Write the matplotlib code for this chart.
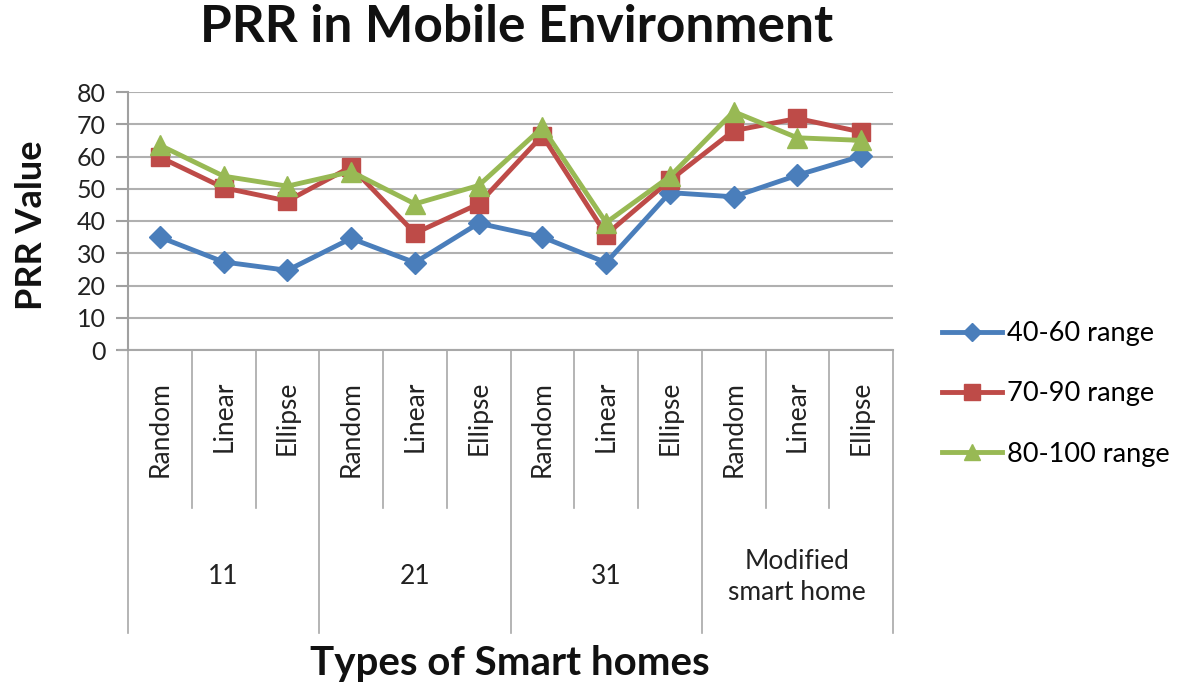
import matplotlib
matplotlib.use("Agg")
import matplotlib.pyplot as plt
import matplotlib.transforms as mtransforms

groups = ["11", "21", "31", "Modified\nsmart home"]
subcats = ["Random", "Linear", "Ellipse"]
series_names = ["40-60 range", "70-90 range", "80-100 range"]
s_40_60 = [35, 27.3, 24.7, 34.6, 27.1, 39.3, 35, 27.1, 48.8, 47.5, 54.2, 60.1]
s_70_90 = [59.8, 50.3, 46.2, 56.8, 36.2, 45.3, 66.5, 35.8, 52.6, 68, 71.8, 67.6]
s_80_100 = [63.5, 53.9, 50.8, 55.3, 45.3, 51, 69, 39.5, 53.8, 73.9, 65.8, 65]
yticks = [0, 10, 20, 30, 40, 50, 60, 70, 80]

colors = ["#4A7EBB", "#BE4B48", "#98B954"]
markers = ["D", "s", "^"]
msizes = [11, 13, 14]

plt.rcParams['font.family'] = ['Lato', 'DejaVu Sans']

fig = plt.figure(figsize=(11.8, 6.89), dpi=100)
ax = fig.add_axes([128/1180, 1-350/689, (893-128)/1180, (350-92)/689])

n = len(groups) * len(subcats)
x = list(range(n))
for vals, c, m, ms, name in zip([s_40_60, s_70_90, s_80_100], colors, markers, msizes, series_names):
    ax.plot(x, vals, color=c, lw=3.5, marker=m, markersize=ms, label=name,
            markeredgecolor=c, solid_joinstyle='round', zorder=3)

ax.set_xlim(-0.5, n - 0.5)
ax.set_ylim(0, 80)
ax.set_yticks(yticks)
ax.set_yticklabels([str(v) for v in yticks], fontsize=18, color="#222222")
ax.yaxis.grid(True, color="#B0B0B0", lw=1.5)
ax.set_axisbelow(True)
for s in ["top", "right", "bottom"]:
    ax.spines[s].set_visible(False)
ax.spines["left"].set_color("#A0A0A0")
ax.spines["left"].set_linewidth(1.5)
ax.tick_params(axis="y", length=9, width=1.5, color="#A0A0A0", pad=7)
ax.set_xticks([])

trans = mtransforms.blended_transform_factory(ax.transData, ax.transAxes)
grey = "#A8A8A8"
ax.plot([-0.5 - 0.14, n - 0.5], [0, 0], transform=trans, color=grey, lw=1.5, clip_on=False)

sub_bottom = -(508 - 350) / 258
grp_bottom = -(633 - 350) / 258
for i in range(n + 1):
    b = i - 0.5
    if i % 3 == 0:
        ax.plot([b, b], [0, grp_bottom], transform=trans, color=grey, lw=1.2, clip_on=False)
    else:
        ax.plot([b, b], [0, sub_bottom], transform=trans, color=grey, lw=1.2, clip_on=False)

lab_top = -(381 - 350) / 258
for i in range(n):
    ax.text(i, lab_top, subcats[i % 3], rotation=90, ha="center", va="top",
            fontsize=19, color="#222222", transform=trans)

grp_y = -(577 - 350) / 258
for g, name in enumerate(groups):
    ax.text(g * 3 + 1, grp_y, name, ha="center", va="center", fontsize=19,
            color="#222222", transform=trans, linespacing=1.3)

fig.text(517/1180, 1-28/689, "PRR in Mobile Environment", ha="center", va="center",
         fontsize=37, fontweight="bold", color="#111111")
fig.text(32/1180, 1-225/689, "PRR Value", ha="center", va="center", rotation=90,
         fontsize=26, fontweight="bold", color="#111111")
fig.text(510/1180, 1-664/689, "Types of Smart homes", ha="center", va="center",
         fontsize=29, fontweight="bold", color="#111111")

leg = ax.legend(loc="center left", bbox_to_anchor=(934/1180, 1-394/689),
                bbox_transform=fig.transFigure, frameon=False, fontsize=19.5,
                handlelength=2.2, labelspacing=1.3, handletextpad=0.2,
                borderaxespad=0.0, borderpad=0.3, markerscale=0.85)

fig.savefig("out.png", dpi=100)
